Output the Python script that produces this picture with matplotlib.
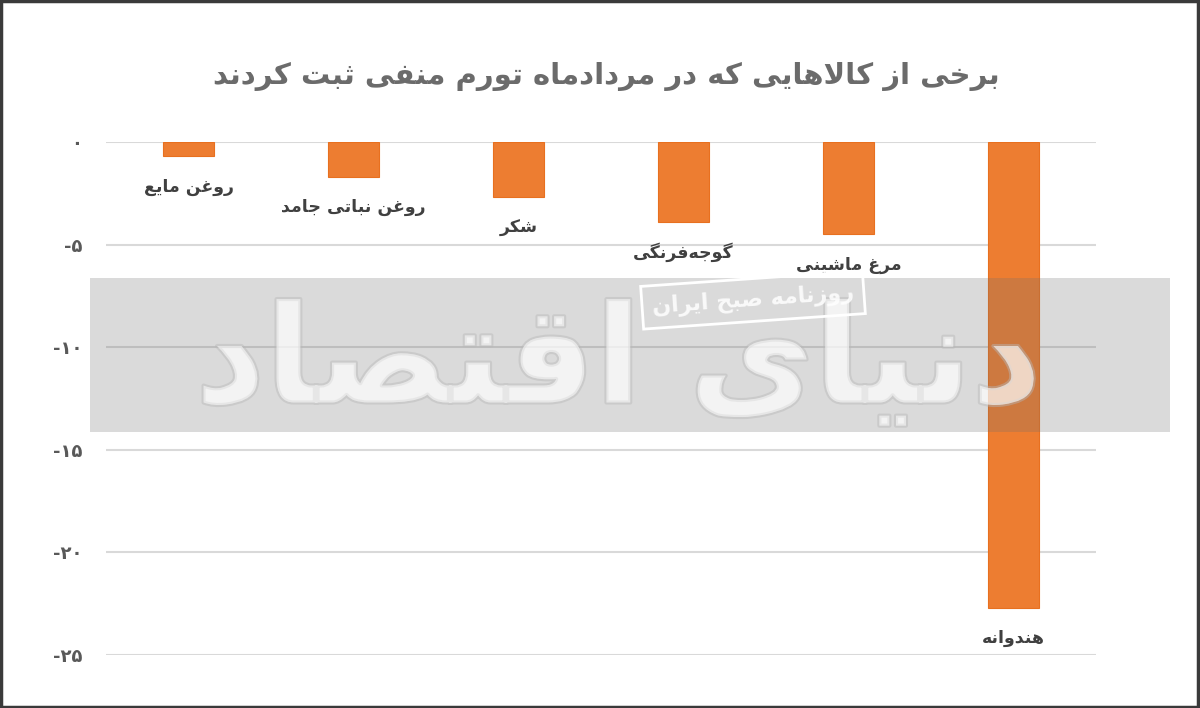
import matplotlib
matplotlib.use("Agg")
import matplotlib.pyplot as plt
from matplotlib.patches import Rectangle
import matplotlib.patheffects as pe

# ---------------- data ----------------
title = "برخی از کالاهایی که در مردادماه تورم منفی ثبت کردند"
categories = ["روغن مایع", "روغن نباتی جامد", "شکر", "گوجه\u200cفرنگی", "مرغ ماشینی", "هندوانه"]
values = [-0.7, -1.7, -2.7, -3.9, -4.5, -22.7]
yticks = [0, -5, -10, -15, -20, -25]
ytick_labels = ["۰", "-۵", "-۱۰", "-۱۵", "-۲۰", "-۲۵"]
watermark = "دنیای اقتصاد"
watermark_small = "روزنامه صبح ایران"

# ---------------- minimal Persian shaping ----------------
# (isolated, final, initial, medial)
FORMS = {
    'ا': ('\uFE8D', '\uFE8E', None, None),
    'ب': ('\uFE8F', '\uFE90', '\uFE91', '\uFE92'),
    'ت': ('\uFE95', '\uFE96', '\uFE97', '\uFE98'),
    'ث': ('\uFE99', '\uFE9A', '\uFE9B', '\uFE9C'),
    'ج': ('\uFE9D', '\uFE9E', '\uFE9F', '\uFEA0'),
    'ح': ('\uFEA1', '\uFEA2', '\uFEA3', '\uFEA4'),
    'خ': ('\uFEA5', '\uFEA6', '\uFEA7', '\uFEA8'),
    'د': ('\uFEA9', '\uFEAA', None, None),
    'ر': ('\uFEAD', '\uFEAE', None, None),
    'ز': ('\uFEAF', '\uFEB0', None, None),
    'س': ('\uFEB1', '\uFEB2', '\uFEB3', '\uFEB4'),
    'ش': ('\uFEB5', '\uFEB6', '\uFEB7', '\uFEB8'),
    'ص': ('\uFEB9', '\uFEBA', '\uFEBB', '\uFEBC'),
    'ع': ('\uFEC9', '\uFECA', '\uFECB', '\uFECC'),
    'غ': ('\uFECD', '\uFECE', '\uFECF', '\uFED0'),
    'ف': ('\uFED1', '\uFED2', '\uFED3', '\uFED4'),
    'ق': ('\uFED5', '\uFED6', '\uFED7', '\uFED8'),
    'ل': ('\uFEDD', '\uFEDE', '\uFEDF', '\uFEE0'),
    'م': ('\uFEE1', '\uFEE2', '\uFEE3', '\uFEE4'),
    'ن': ('\uFEE5', '\uFEE6', '\uFEE7', '\uFEE8'),
    'ه': ('\uFEE9', '\uFEEA', '\uFEEB', '\uFEEC'),
    'و': ('\uFEED', '\uFEEE', None, None),
    'ی': ('\uFBFC', '\uFBFD', '\uFBFE', '\uFBFF'),
    'ک': ('\uFB8E', '\uFB8F', '\uFB90', '\uFB91'),
    'گ': ('\uFB92', '\uFB93', '\uFB94', '\uFB95'),
}
DUAL = {c for c, f in FORMS.items() if f[2] is not None}


def shape(text):
    chars = list(text)
    n = len(chars)
    out = []
    i = 0
    while i < n:
        c = chars[i]
        prev = chars[i - 1] if i > 0 else None
        nxt = chars[i + 1] if i < n - 1 else None
        cp = prev in DUAL if prev else False
        if c == 'ل' and nxt == 'ا':
            out.append('\uFEFC' if cp else '\uFEFB')
            i += 2
            continue
        if c == '\u200c':
            i += 1
            continue
        if c not in FORMS:
            out.append(c)
            i += 1
            continue
        cn = c in DUAL and nxt is not None and nxt in FORMS
        iso, fin, ini, med = FORMS[c]
        if cp and cn:
            out.append(med)
        elif cp:
            out.append(fin)
        elif cn:
            out.append(ini)
        else:
            out.append(iso)
        i += 1
    return ''.join(reversed(out))


# ---------------- figure ----------------
plt.rcParams['font.family'] = ['DejaVu Sans']
fig = plt.figure(figsize=(12, 7.08), dpi=100)
ax = fig.add_axes([106 / 1200, 1 - 655 / 708, 990 / 1200, 513 / 708])

x = list(range(len(categories)))
ax.bar(x, values, width=0.31, color='#ED7D31', edgecolor='#E8701F', linewidth=0.8, zorder=2)

ax.set_xlim(-0.5, len(categories) - 0.5)
ax.set_ylim(-25, 0)
ax.set_yticks(yticks)
ax.set_yticklabels(ytick_labels, fontsize=13, fontweight='bold', color='#595959')
ax.tick_params(axis='y', length=0, pad=17)
ax.set_xticks([])
for s in ax.spines.values():
    s.set_visible(False)
ax.yaxis.grid(True, color='#d9d9d9', linewidth=1.5, zorder=0)
ax.set_axisbelow(True)

for xi, v, lab in zip(x, values, categories):
    ax.annotate(shape(lab), xy=(xi, v), xytext=(0, -22), textcoords='offset points',
                ha='center', va='center', fontsize=12.5, fontweight='bold',
                color='#404040', zorder=5)

fig.text(0.505, 1 - 76 / 708, shape(title), ha='center', va='center',
         fontsize=21, fontweight='bold', color='#6b6b6b')

# ---------------- watermark ----------------
fig.patches.append(Rectangle((90 / 1200, 1 - 432 / 708), 1080 / 1200, 154 / 708,
                             transform=fig.transFigure, facecolor='#6e6e6e',
                             alpha=0.25, edgecolor='none', zorder=3))
fig.text(0.515, 1 - 365 / 708, shape(watermark), ha='center', va='center',
         fontsize=98, fontweight='bold', color='white', alpha=0.45, zorder=4,
         path_effects=[pe.withStroke(linewidth=3, foreground='#b8b8b8')])
fig.text(753 / 1200, 1 - 300 / 708, shape(watermark_small), ha='center', va='center',
         fontsize=16, fontweight='bold', color='white', alpha=0.85, rotation=4, zorder=4,
         bbox=dict(boxstyle='square,pad=0.45', facecolor='none', edgecolor='white',
                   linewidth=2))

# figure border
fig.patches.append(Rectangle((0.001, 0.002), 0.997, 0.996, transform=fig.transFigure,
                             facecolor='none', edgecolor='#3a3a3a', linewidth=2.5, zorder=10))

fig.savefig('out.png', dpi=100, facecolor='white')
